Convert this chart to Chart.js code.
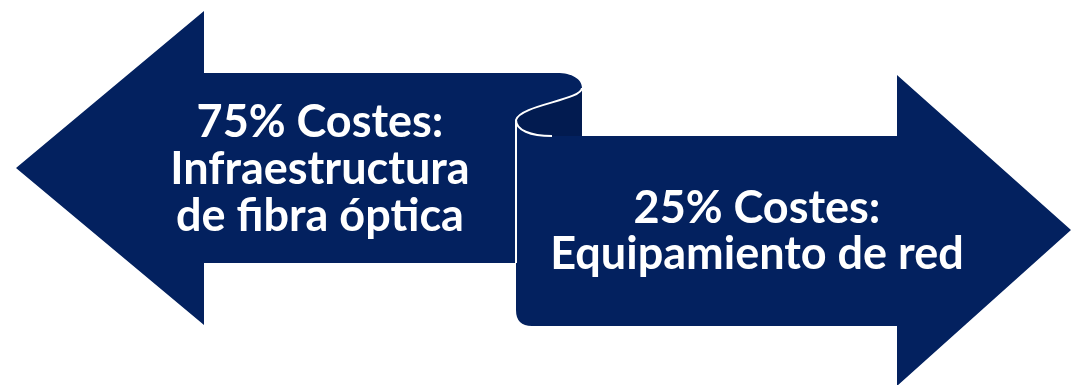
<!DOCTYPE html>
<html>
<head>
<meta charset="utf-8">
<script src="https://cdn.jsdelivr.net/npm/chart.js@4"></script>
<style>
  html, body { margin: 0; padding: 0; background: #ffffff; }
  #costChart { display: block; }
</style>
</head>
<body>
<canvas id="costChart" width="1071" height="385"></canvas>
<script>
// Cost split shown by the two arrows
const categories = ['Infraestructura de fibra óptica', 'Equipamiento de red'];
const costShares = [75, 25];
const headingWord = 'Costes:';
const labelLines = [
    ['Infraestructura', 'de fibra óptica'],
    ['Equipamiento de red']
];

// Colours
const navy = '#03215f';
const navyDark = '#021b50';
const textColor = '#ffffff';

// Arrow geometry (in axis units, the axes map 1:1 to pixels)
const leftArrow = { tipX: 16, tipY: 168, headX: 204, headTop: 11, headBottom: 325, shaftTop: 73, shaftBottom: 263, endX: 516 };
const rightArrow = { tipX: 1071, tipY: 230, headX: 897, headTop: 75, headBottom: 386, shaftTop: 136, shaftBottom: 326, startX: 516 };
const curl = { right: 582, top: 88, foldY: 120, foldEndX: 552 };

// Text blocks
const leftText = { x: 320, firstBaseline: 137, lineGap: 47 };
const rightText = { x: 757, firstBaseline: 223, lineGap: 46 };
const fontSpec = 'bold 45px Lato, "Open Sans", sans-serif';

const arrowPlugin = {
    id: 'arrowPlugin',
    afterDraw(chart) {
        const ctx = chart.ctx;
        const sx = v => chart.scales.x.getPixelForValue(v);
        const sy = v => chart.scales.y.getPixelForValue(v);
        const L = leftArrow, R = rightArrow, C = curl;

        ctx.save();

        // Left arrow with top of the scroll
        ctx.beginPath();
        ctx.moveTo(sx(L.tipX), sy(L.tipY));
        ctx.lineTo(sx(L.headX), sy(L.headTop));
        ctx.lineTo(sx(L.headX), sy(L.shaftTop));
        ctx.lineTo(sx(C.right - 25), sy(L.shaftTop));
        ctx.bezierCurveTo(sx(C.right - 10), sy(L.shaftTop), sx(C.right), sy(L.shaftTop + 6), sx(C.right), sy(C.top));
        ctx.bezierCurveTo(sx(C.right), sy(C.top + 12), sx(L.endX + 4), sy(C.top + 17), sx(L.endX), sy(C.foldY));
        ctx.lineTo(sx(L.endX), sy(L.shaftBottom));
        ctx.lineTo(sx(L.headX), sy(L.shaftBottom));
        ctx.lineTo(sx(L.headX), sy(L.headBottom));
        ctx.closePath();
        ctx.fillStyle = navy;
        ctx.fill();

        // Back side of the scroll (darker)
        ctx.beginPath();
        ctx.moveTo(sx(C.right), sy(C.top));
        ctx.bezierCurveTo(sx(C.right), sy(C.top + 12), sx(L.endX + 4), sy(C.top + 17), sx(L.endX), sy(C.foldY));
        ctx.bezierCurveTo(sx(R.startX), sy(C.foldY + 10), sx(R.startX + 14), sy(R.shaftTop), sx(C.foldEndX), sy(R.shaftTop));
        ctx.lineTo(sx(C.right), sy(R.shaftTop));
        ctx.closePath();
        ctx.fillStyle = navyDark;
        ctx.fill();

        // Right arrow (front of the ribbon)
        ctx.beginPath();
        ctx.moveTo(sx(R.startX), sy(C.foldY));
        ctx.bezierCurveTo(sx(R.startX), sy(C.foldY + 10), sx(R.startX + 14), sy(R.shaftTop), sx(C.foldEndX), sy(R.shaftTop));
        ctx.lineTo(sx(R.headX), sy(R.shaftTop));
        ctx.lineTo(sx(R.headX), sy(R.headTop));
        ctx.lineTo(sx(R.tipX), sy(R.tipY));
        ctx.lineTo(sx(R.headX), sy(R.headBottom));
        ctx.lineTo(sx(R.headX), sy(R.shaftBottom));
        ctx.lineTo(sx(R.startX + 16), sy(R.shaftBottom));
        ctx.quadraticCurveTo(sx(R.startX), sy(R.shaftBottom), sx(R.startX), sy(R.shaftBottom - 16));
        ctx.closePath();
        ctx.fillStyle = navy;
        ctx.fill();

        // White fold lines
        ctx.beginPath();
        ctx.moveTo(sx(C.right), sy(C.top));
        ctx.bezierCurveTo(sx(C.right), sy(C.top + 12), sx(L.endX + 4), sy(C.top + 17), sx(L.endX), sy(C.foldY));
        ctx.bezierCurveTo(sx(R.startX), sy(C.foldY + 10), sx(R.startX + 14), sy(R.shaftTop), sx(C.foldEndX), sy(R.shaftTop));
        ctx.moveTo(sx(R.startX), sy(C.foldY));
        ctx.lineTo(sx(R.startX), sy(L.shaftBottom));
        ctx.strokeStyle = '#ffffff';
        ctx.lineWidth = 2;
        ctx.stroke();

        // Labels
        ctx.fillStyle = textColor;
        ctx.font = fontSpec;
        ctx.textAlign = 'center';
        ctx.textBaseline = 'alphabetic';
        const blocks = [leftText, rightText];
        blocks.forEach((b, i) => {
            const lines = [costShares[i] + '% ' + headingWord].concat(labelLines[i]);
            lines.forEach((line, j) => {
                ctx.fillText(line, sx(b.x), sy(b.firstBaseline + j * b.lineGap));
            });
        });

        ctx.restore();
    }
};

const ctx = document.getElementById('costChart').getContext('2d');
const costChart = new Chart(ctx, {
    type: 'scatter',
    data: {
        labels: categories,
        datasets: [{ label: 'Costes', data: [] }]
    },
    options: {
        responsive: false,
        animation: false,
        devicePixelRatio: 1,
        layout: { padding: 0 },
        scales: {
            x: { type: 'linear', min: 0, max: 1071, display: false },
            y: { type: 'linear', min: 0, max: 385, reverse: true, display: false }
        },
        plugins: {
            legend: { display: false },
            tooltip: { enabled: false }
        }
    },
    plugins: [arrowPlugin]
});
</script>
</body>
</html>
